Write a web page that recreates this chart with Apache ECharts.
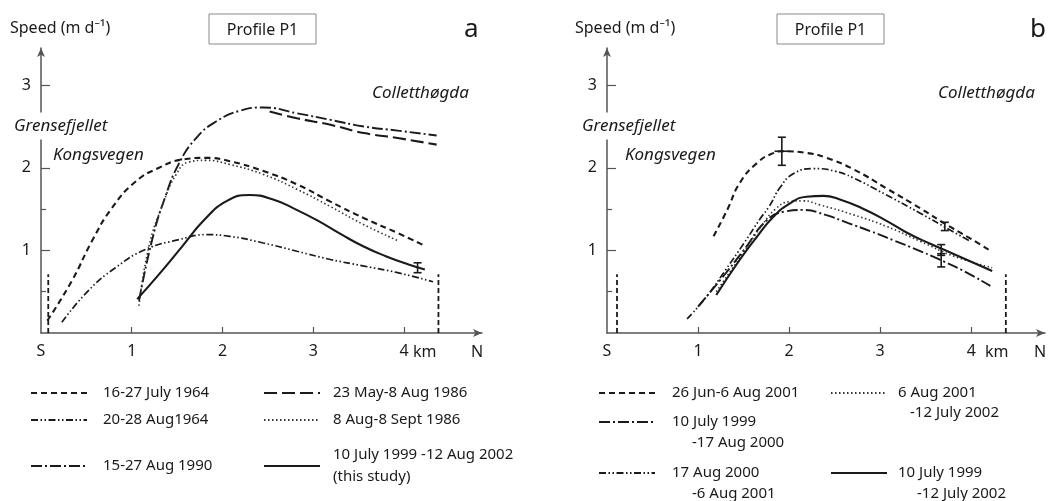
<!DOCTYPE html>
<html>
<head>
<meta charset="utf-8">
<script src="https://cdn.jsdelivr.net/npm/echarts@6/dist/echarts.min.js"></script>
<style>
html, body { margin: 0; padding: 0; background: #fff; }
#main { width: 1050px; height: 501px; }
</style>
</head>
<body>
<div id="main"></div>
<script>
// distance along profile (km from S) , speed (m/d)
var xTicks = [1, 2, 3, 4];
var xLabels = [0, 1, 2, 3, 4];
var yTicks = [1, 2, 3];
var yMinor = [0.5, 1.5, 2.5];

// panel a
var namesA = ['16-27 July 1964', '20-28 Aug1964', '15-27 Aug 1990', '23 May-8 Aug 1986', '8 Aug-8 Sept 1986', '10 July 1999 -12 Aug 2002'];
var jul1964 = [[0.07,0.15],[0.34,0.63],[0.56,1.11],[0.78,1.51],[1.04,1.83],[1.30,2.0],[1.56,2.10],[1.82,2.12],[2.08,2.08],[2.45,1.96],[2.82,1.80],[3.19,1.59],[3.56,1.39],[3.93,1.21],[4.24,1.05]];
var aug1964 = [[0.23,0.13],[0.52,0.51],[0.82,0.79],[1.15,1.01],[1.52,1.13],[1.82,1.19],[2.08,1.17],[2.45,1.09],[2.82,0.99],[3.19,0.89],[3.56,0.81],[3.93,0.73],[4.32,0.62]];
var aug1990 = [[1.08,0.39],[1.23,1.15],[1.37,1.65],[1.52,2.05],[1.71,2.36],[1.93,2.56],[2.19,2.69],[2.45,2.73],[2.82,2.66],[3.19,2.58],[3.56,2.50],[3.93,2.45],[4.36,2.39]];
var may1986 = [[2.52,2.68],[2.82,2.60],[3.19,2.52],[3.56,2.42],[3.93,2.36],[4.36,2.28]];
var sep1986 = [[1.08,0.33],[1.19,1.05],[1.34,1.55],[1.49,1.92],[1.63,2.07],[1.82,2.09],[2.08,2.04],[2.45,1.92],[2.82,1.74],[3.19,1.53],[3.56,1.31],[3.95,1.11]];
var study2002 = [[1.06,0.41],[1.30,0.71],[1.55,1.04],[1.80,1.37],[2.05,1.60],[2.30,1.67],[2.55,1.62],[2.80,1.50],[3.05,1.36],[3.30,1.20],[3.55,1.05],[3.80,0.93],[4.05,0.83],[4.23,0.77]];
var errA = [[4.15, 0.73, 0.85, 0]];
var edgeA = [0.08, 4.38];
var edgeTop = 0.71;

// panel b
var namesB = ['26 Jun-6 Aug 2001', '10 July 1999 -17 Aug 2000', '17 Aug 2000 -6 Aug 2001', '6 Aug 2001 -12 July 2002', '10 July 1999 -12 July 2002'];
var jun2001 = [[1.17,1.17],[1.32,1.49],[1.46,1.82],[1.65,2.06],[1.83,2.18],[1.92,2.20],[2.19,2.18],[2.41,2.12],[2.71,1.98],[3.07,1.75],[3.44,1.51],[3.73,1.31],[3.95,1.17],[4.19,1.01]];
var jul1999aug2000 = [[1.0,0.32],[1.25,0.65],[1.5,1.0],[1.75,1.36],[1.95,1.47],[2.15,1.49],[2.4,1.43],[2.65,1.33],[2.9,1.23],[3.15,1.12],[3.4,1.01],[3.65,0.89],[3.9,0.76],[4.21,0.57]];
var aug2000aug2001 = [[0.88,0.17],[1.1,0.45],[1.3,0.76],[1.5,1.08],[1.68,1.38],[1.78,1.53],[1.9,1.76],[2.05,1.93],[2.27,1.99],[2.5,1.96],[2.7,1.88],[3.07,1.67],[3.44,1.45],[3.73,1.27],[3.99,1.11]];
var aug2001jul2002 = [[1.2,0.50],[1.5,0.98],[1.7,1.30],[1.85,1.50],[2.0,1.59],[2.15,1.60],[2.34,1.55],[2.71,1.43],[3.07,1.29],[3.44,1.11],[3.81,0.93],[4.23,0.79]];
var jul1999jul2002 = [[1.2,0.46],[1.46,0.89],[1.65,1.17],[1.83,1.41],[2.01,1.57],[2.19,1.65],[2.38,1.66],[2.55,1.62],[2.8,1.51],[3.05,1.37],[3.3,1.21],[3.55,1.08],[3.8,0.96],[4.23,0.75]];
var errB = [[1.92, 2.03, 2.37, 0.08], [3.71, 1.24, 1.34, 0], [3.67, 0.94, 1.07, 0], [3.67, 0.80, 0.96, 0]];
var edgeB = [0.11, 4.38];

var FONT = 'Noto Sans';
var INK = '#1a1a1a';
var AXIS = '#555';

//line patterns
var SHORT = [6, 4], LONG = [13, 5], DOT = [1.5, 2.5], DASHDOT = [11, 3, 2, 3], DASHDOTDOT = [7, 2.5, 1.5, 2.5, 1.5, 2.5];

var chart = echarts.init(document.getElementById('main'));

function curve(name, data, g, dash, w, color) {
    return {
        name: name, type: 'line', data: data,
        xAxisIndex: g, yAxisIndex: g * 2,
        smooth: 0.5,
        showSymbol: false, symbol: 'none', silent: true,
        lineStyle: { color: color || INK, width: w, type: dash },
        z: 3
    };
}

function edge(x, g) {
    return {
        type: 'line', data: [[x, 0], [x, edgeTop]],
        xAxisIndex: g, yAxisIndex: g * 2, showSymbol: false, symbol: 'none', silent: true,
        lineStyle: { color: INK, width: 1.8, type: [5, 3] }
    };
}

function errorBars(data, g) {
    return {
        type: 'custom', data: data, xAxisIndex: g, yAxisIndex: g * 2, silent: true, z: 5,
        encode: { x: 0, y: [1, 2] },
        renderItem: function (params, api) {
            var x = api.value(0), lo = api.value(1), hi = api.value(2), hw = api.value(3);
            var p1 = api.coord([x, lo]), p2 = api.coord([x, hi]);
            var st = { stroke: INK, lineWidth: 1.6 };
            var kids = [
                { type: 'line', shape: { x1: p1[0], y1: p1[1], x2: p2[0], y2: p2[1] }, style: st },
                { type: 'line', shape: { x1: p1[0] - 4, y1: p1[1], x2: p1[0] + 4, y2: p1[1] }, style: st },
                { type: 'line', shape: { x1: p2[0] - 4, y1: p2[1], x2: p2[0] + 4, y2: p2[1] }, style: st }
            ];
            if (hw > 0) {
                var mid = (lo + hi) / 2;
                var h1 = api.coord([x - hw, mid]), h2 = api.coord([x + hw, mid]);
                kids.push({ type: 'line', shape: { x1: h1[0], y1: h1[1], x2: h2[0], y2: h2[1] }, style: st });
            }
            return { type: 'group', children: kids };
        }
    };
}

function xAxisFor(g, max) {
    return {
        gridIndex: g, type: 'value', min: 0, max: max,
        axisLine: { symbol: ['none', 'arrow'], symbolSize: [6, 9], lineStyle: { color: AXIS, width: 1.5 } },
        axisTick: { inside: true, length: 6, customValues: xTicks, lineStyle: { color: AXIS, width: 1.2 } },
        axisLabel: {
            customValues: xLabels, margin: 10, color: INK, fontSize: 16, fontFamily: FONT,
            formatter: function (v) { return v === 0 ? 'S' : String(v); }
        },
        splitLine: { show: false }
    };
}

function yAxesFor(g) {
    return [{
        gridIndex: g, type: 'value', min: 0, max: 3.45, position: 'left',
        axisLine: { symbol: ['none', 'arrow'], symbolSize: [6, 9], lineStyle: { color: AXIS, width: 1.5 } },
        axisTick: { inside: true, length: 9, customValues: yTicks, lineStyle: { color: AXIS, width: 1.2 } },
        axisLabel: { customValues: yTicks, margin: 10, color: INK, fontSize: 16, fontFamily: FONT },
        splitLine: { show: false }
    }, {
        gridIndex: g, type: 'value', min: 0, max: 3.45, position: 'left',
        axisLine: { show: false },
        axisTick: { inside: true, length: 5, customValues: yMinor, lineStyle: { color: AXIS, width: 1.2 } },
        axisLabel: { show: false },
        splitLine: { show: false }
    }];
}

// legend placement (icon left, row centre, gap to text)
var legendLayout = [
    { name: namesA[0], left: 30, y: 393, pad: 11 },
    { name: namesA[1], left: 30, y: 420, pad: 11 },
    { name: namesA[2], left: 30, y: 466, pad: 11 },
    { name: namesA[3], left: 263, y: 393, pad: 8 },
    { name: namesA[4], left: 263, y: 420, pad: 8 },
    { name: namesA[5], left: 263, y: 466, pad: 8, extra: '(this study)' },
    { name: namesB[0], left: 598, y: 393, pad: 12 },
    { name: namesB[1], left: 598, y: 422, pad: 12, second: [692, 443] },
    { name: namesB[2], left: 598, y: 473, pad: 12, second: [692, 494] },
    { name: namesB[3], left: 830, y: 393, pad: 6, second: [910, 413] },
    { name: namesB[4], left: 830, y: 473, pad: 6, second: [917, 494] }
];

var legends = [];
var graphics = [];

function txt(x, y, s, size, extra) {
    var st = { text: s, fill: INK, fontSize: size, fontFamily: FONT, align: 'left', verticalAlign: 'middle' };
    for (var k in (extra || {})) st[k] = extra[k];
    return { type: 'text', x: x, y: y, z: 100, style: st };
}

legendLayout.forEach(function (L) {
    var two = !!L.extra;
    var parts = L.name.split(' -');
    legends.push({
        data: [L.name], left: L.left, top: two ? L.y - 22 : L.y - 9, padding: 0,
        itemWidth: 56, itemHeight: 10, selectedMode: false,
        itemStyle: { opacity: 0 },
        textStyle: { fontSize: 15, fontFamily: FONT, color: INK, lineHeight: two ? 22 : 18, padding: [0, 0, 0, L.pad] },
        formatter: function (n) {
            if (L.extra) return n + '\n' + L.extra;
            if (L.second) return parts[0];
            return n;
        }
    });
    if (L.second) graphics.push(txt(L.second[0], L.second[1], '-' + parts[1], 15));
});

// titles and place names
[[0, 10, 209, 464, 372, 12, 53, 413, 477], [1, 575, 777, 1030, 938, 580, 625, 985, 1040]].forEach(function (p) {
    graphics.push(txt(p[1], 28, 'Speed (m d\u207B\u00B9)', 16));
    graphics.push({ type: 'rect', z: 100, shape: { x: p[2], y: 14, width: 107, height: 30 }, style: { fill: '#fff', stroke: '#8a8a8a', lineWidth: 1 } });
    graphics.push(txt(p[2] + 53.5, 30, 'Profile P1', 16, { align: 'center' }));
    graphics.push(txt(p[3], 30, p[0] === 0 ? 'a' : 'b', 26));
    graphics.push(txt(p[4], 93, 'Colletthøgda', 17, { fontStyle: 'italic' }));
    graphics.push(txt(p[5], 126, 'Grensefjellet', 17, { fontStyle: 'italic', backgroundColor: '#fff', padding: [5, 2] }));
    graphics.push(txt(p[6], 155, 'Kongsvegen', 17, { fontStyle: 'italic' }));
    graphics.push(txt(p[7], 352, 'km', 16));
    graphics.push(txt(p[8], 352, 'N', 16, { align: 'center' }));
});

var option = {
    backgroundColor: '#fff',
    animation: false,
    textStyle: { fontFamily: FONT },
    grid: [
        { left: 41, top: 48, width: 441, height: 285 },
        { left: 607, top: 48, width: 438, height: 285 }
    ],
    xAxis: [xAxisFor(0, 4.86), xAxisFor(1, 4.81)],
    yAxis: yAxesFor(0).concat(yAxesFor(1)),
    legend: legends,
    graphic: { elements: graphics },
    series: [
        curve(namesA[0], jul1964, 0, SHORT, 2.1),
        curve(namesA[1], aug1964, 0, DASHDOTDOT, 1.7),
        curve(namesA[2], aug1990, 0, DASHDOT, 1.9),
        curve(namesA[3], may1986, 0, LONG, 2.1),
        curve(namesA[4], sep1986, 0, DOT, 1.6, '#333'),
        curve(namesA[5], study2002, 0, 'solid', 2.1),
        errorBars(errA, 0),
        edge(edgeA[0], 0), edge(edgeA[1], 0),

        curve(namesB[0], jun2001, 1, SHORT, 2.1),
        curve(namesB[1], jul1999aug2000, 1, DASHDOT, 1.9),
        curve(namesB[2], aug2000aug2001, 1, DASHDOTDOT, 1.7),
        curve(namesB[3], aug2001jul2002, 1, DOT, 1.6, '#333'),
        curve(namesB[4], jul1999jul2002, 1, 'solid', 2.1),
        errorBars(errB, 1),
        edge(edgeB[0], 1), edge(edgeB[1], 1)
    ]
};
chart.setOption(option);
</script>
</body>
</html>
